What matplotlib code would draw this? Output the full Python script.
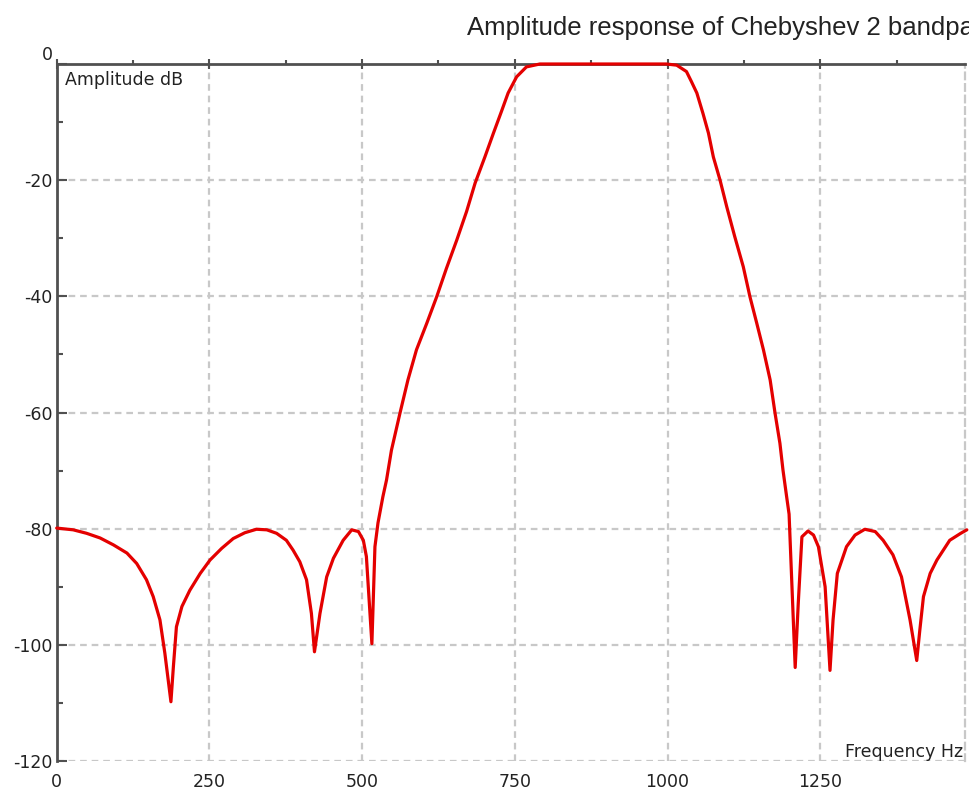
import matplotlib
matplotlib.use("Agg")
import matplotlib.pyplot as plt
from matplotlib.ticker import MultipleLocator

# ---- data ----
freq_hz = [0, 27, 49, 71, 93, 115, 131, 147, 158, 169, 177, 187,
           191, 196, 205, 218, 235, 251, 270, 289, 308, 327, 344, 360, 376,
           387, 398, 409, 417, 422, 431, 442, 453, 469, 483, 494, 502, 507,
           516, 521, 526, 534, 540, 548, 562, 575, 589, 606, 622, 638, 655,
           671, 685, 701, 715, 728, 739, 753, 769, 791, 900, 998, 1015, 1031,
           1039, 1048, 1058, 1067, 1075, 1086, 1097, 1110, 1124, 1135, 1146,
           1157, 1168, 1176, 1184, 1189, 1195, 1199, 1209, 1214, 1220, 1230,
           1239, 1247, 1258, 1266, 1271, 1278, 1293, 1307, 1323, 1340, 1353,
           1369, 1383, 1397, 1408, 1413, 1419, 1430, 1441, 1462, 1480, 1490]
amp_db = [-79.9, -80.2, -80.8, -81.6, -82.8, -84.2, -86.0, -88.8, -91.7,
          -95.7, -101.4, -109.8,
          -103.8, -96.9, -93.4, -90.6, -87.7, -85.4, -83.4, -81.7, -80.7,
          -80.1, -80.2, -80.8, -82.0,
          -83.7, -85.7, -88.8, -94.6, -101.2, -94.6, -88.3, -85.1, -82.0,
          -80.2, -80.5, -82.0, -84.8,
          -99.8, -83.1, -79.0, -74.5, -71.6, -66.5, -60.1, -54.4, -49.2,
          -44.6, -40.1, -35.2, -30.3,
          -25.4, -20.5, -16.0, -11.9, -8.2, -5.0, -2.2, -0.5, 0.0, 0.0, 0.0,
          -0.2, -1.3,
          -3.0, -5.0, -8.5, -11.9, -16.0, -20.0, -24.6, -29.7, -34.9, -40.1,
          -44.6,
          -49.2, -54.4, -60.1, -65.3, -69.9, -74.5, -77.5, -103.9, -92.9,
          -81.4, -80.4,
          -81.1, -83.1, -90.0, -104.4, -95.7, -87.7, -83.1, -81.1, -80.1,
          -80.5, -82.0,
          -84.5, -88.3, -95.7, -102.7, -97.5, -91.7, -87.7, -85.4, -82.0,
          -80.8, -80.2]

x_ticks = [0, 250, 500, 750, 1000, 1250]
y_ticks = [0, -20, -40, -60, -80, -100, -120]

title_text = "Amplitude response of Chebyshev 2 bandpass filter"
y_label = "Amplitude dB"
x_label = "Frequency Hz"

W, H = 970, 794
fig = plt.figure(figsize=(W / 100, H / 100), dpi=100)
fig.patch.set_facecolor("white")

left_px, right_px, top_px, bot_px = 56.7, 965, 64, 761
ax = fig.add_axes([left_px / W, 1 - bot_px / H,
                   (right_px - left_px) / W, (bot_px - top_px) / H])

ax.plot(freq_hz, amp_db, color="#e40000", lw=2.3, solid_joinstyle="round",
        solid_capstyle="round", zorder=5, clip_on=False)

ax.set_xlim(0, 1487)
ax.set_ylim(-120, 0)

ax.set_xticks(x_ticks)
ax.set_yticks(y_ticks)
ax.xaxis.set_minor_locator(MultipleLocator(125))
ax.yaxis.set_minor_locator(MultipleLocator(10))

grid_kw = dict(color="#c8c8c8", lw=1.6, ls=(0, (3, 2.2)), zorder=1)
for xv in x_ticks[1:]:
    ax.axvline(xv, **grid_kw)
for yv in y_ticks[1:]:
    ax.axhline(yv, **grid_kw)

# spines
for s in ["left", "top"]:
    ax.spines[s].set_color("#505050")
    ax.spines[s].set_linewidth(2.0)
ax.spines["bottom"].set_visible(False)
ax.spines["right"].set_color("#c8c8c8")
ax.spines["right"].set_linewidth(1.6)
ax.spines["right"].set_linestyle((0, (3, 2.2)))

tick_font = "DejaVu Sans"
ax.tick_params(axis="x", which="major", bottom=False, top=True,
               labelbottom=True, labeltop=False, direction="inout",
               length=7, width=1.5, color="#505050", pad=5,
               labelsize=12.5, labelcolor="#222222")
ax.tick_params(axis="x", which="minor", bottom=False, top=True,
               direction="out", length=3, width=1.5, color="#505050")
ax.tick_params(axis="y", which="major", left=True, direction="in",
               length=7, width=1.5, color="#505050", pad=3,
               labelsize=12.5, labelcolor="#222222")
ax.tick_params(axis="y", which="minor", left=True, direction="in",
               length=4, width=1.5, color="#505050")
ax.set_yticklabels([str(v) for v in y_ticks])
ax.set_xticklabels([str(v) for v in x_ticks])
for lab in ax.get_yticklabels():
    lab.set_family(tick_font)
    if lab.get_text() == "0":
        lab.set_va("bottom")
for lab in ax.get_xticklabels():
    lab.set_family(tick_font)

fig.text(65 / W, 1 - 80 / H, y_label, ha="left", va="center",
         fontsize=12.5, family=tick_font, color="#222222")
fig.text(963 / W, 1 - 752 / H, x_label, ha="right", va="center",
         fontsize=12.5, family=tick_font, color="#222222")

fig.text(467 / W, 1 - 35 / H, title_text, ha="left", va="baseline",
         fontsize=18.5, family="Liberation Sans", color="#222222")

fig.savefig("out.png", dpi=100, facecolor="white")
